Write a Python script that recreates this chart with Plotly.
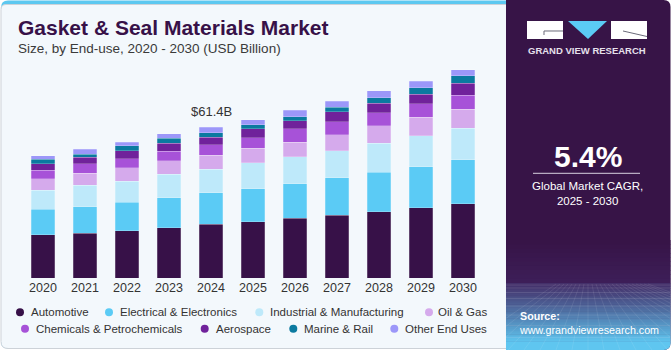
import plotly.graph_objects as go

# ---------------- data ----------------
years = ["2020", "2021", "2022", "2023", "2024", "2025", "2026", "2027", "2028", "2029", "2030"]
automotive = [17.5, 18.2, 19.2, 20.5, 21.8, 22.9, 24.3, 25.5, 27.0, 28.5, 30.2]
electrical = [10.4, 10.8, 11.7, 12.2, 12.9, 13.4, 14.0, 15.2, 16.0, 16.7, 17.8]
industrial = [7.8, 8.7, 8.5, 9.4, 9.6, 10.6, 11.0, 11.0, 11.7, 12.6, 13.0]
oil_gas = [4.6, 4.9, 5.4, 5.6, 5.6, 5.8, 6.0, 6.5, 7.3, 7.5, 7.6]
chemicals = [3.5, 3.8, 3.7, 3.8, 4.2, 4.3, 5.4, 5.3, 5.2, 5.6, 5.8]
aerospace = [2.6, 2.7, 3.3, 3.4, 3.1, 3.7, 3.3, 4.1, 3.9, 3.9, 4.8]
marine_rail = [1.9, 1.2, 1.9, 1.9, 1.9, 1.6, 1.6, 1.8, 2.3, 2.6, 3.0]
other_uses = [1.5, 2.0, 1.6, 1.9, 2.3, 2.0, 2.6, 2.4, 2.7, 2.7, 2.4]

series_names = ["Automotive", "Electrical & Electronics", "Industrial & Manufacturing", "Oil & Gas",
                "Chemicals & Petrochemicals", "Aerospace", "Marine & Rail", "Other End Uses"]
series_values = [automotive, electrical, industrial, oil_gas, chemicals, aerospace, marine_rail, other_uses]
series_colors = ["#371148", "#5BCBF5", "#BEE9FA", "#D5AAEC", "#A752D8", "#70229B", "#0B7AA0", "#9C97F9"]

highlight_year = "2024"
highlight_label = "$61.4B"
cagr_text = "5.4%"

# ---------------- geometry helpers (pixel -> paper) ----------------
W, H = 671, 350
L, R, T, B = 22, 187, 60, 72
PW, PH = W - L - R, H - T - B


def px(x):
    return (x - L) / PW


def py(y):
    return (H - B - y) / PH


def rounded_path(x0, y0, x1, y1, r_tl=0, r_tr=0, r_br=0, r_bl=0):
    p = []
    p.append("M %f %f" % (px(x0 + r_tl), py(y0)))
    p.append("L %f %f" % (px(x1 - r_tr), py(y0)))
    p.append("Q %f %f %f %f" % (px(x1), py(y0), px(x1), py(y0 + r_tr)))
    p.append("L %f %f" % (px(x1), py(y1 - r_br)))
    p.append("Q %f %f %f %f" % (px(x1), py(y1), px(x1 - r_br), py(y1)))
    p.append("L %f %f" % (px(x0 + r_bl), py(y1)))
    p.append("Q %f %f %f %f" % (px(x0), py(y1), px(x0), py(y1 - r_bl)))
    p.append("L %f %f" % (px(x0), py(y0 + r_tl)))
    p.append("Q %f %f %f %f" % (px(x0), py(y0), px(x0 + r_tl), py(y0)))
    p.append("Z")
    return " ".join(p)


fig = go.Figure()
for name, vals, col in zip(series_names, series_values, series_colors):
    fig.add_trace(go.Bar(
        x=years, y=vals, name=name, marker=dict(color=col, line=dict(width=0.5, color="rgba(255,255,255,0.45)")),
        showlegend=False, hoverinfo="x+y+name"))

shapes = []
annotations = []

# left panel background (rounded)
shapes.append(dict(type="path", xref="paper", yref="paper", path=rounded_path(1, 0.5, 512, 348.5, 7, 0, 0, 7),
                   fillcolor="#5CC8F0", line=dict(width=0), layer="below"))
shapes.append(dict(type="path", xref="paper", yref="paper", path=rounded_path(1, 4.5, 512, 348.5, 5, 0, 0, 7),
                   fillcolor="#F3F8FC", line=dict(color="#CDD2D8", width=1), layer="below"))

# right panel
shapes.append(dict(type="path", xref="paper", yref="paper", path=rounded_path(506, 0, 670.5, 350, 0, 7, 7, 0),
                   fillcolor="#371447", line=dict(width=0), layer="below"))


def lerp(c1, c2, t):
    a = [int(c1[i:i + 2], 16) for i in (1, 3, 5)]
    b = [int(c2[i:i + 2], 16) for i in (1, 3, 5)]
    return "#%02x%02x%02x" % tuple(round(a[k] + (b[k] - a[k]) * t) for k in range(3))


n = 10
for i in range(n):
    y0 = 240 + i * 43 / n
    shapes.append(dict(type="rect", xref="paper", yref="paper", x0=px(506), x1=px(670.5), y0=py(y0 + 43 / n + 0.5),
                       y1=py(y0), fillcolor=lerp("#371447", "#3D1E58", i / (n - 1)), line=dict(width=0), layer="below"))
n = 34
for i in range(n):
    y0 = 283 + i * 60 / n
    shapes.append(dict(type="rect", xref="paper", yref="paper", x0=px(506), x1=px(670.5), y0=py(y0 + 60 / n + 0.5),
                       y1=py(y0), fillcolor=lerp("#44306A", "#5FC6F0", (i / (n - 1)) ** 1.1), line=dict(width=0), layer="below"))
shapes.append(dict(type="path", xref="paper", yref="paper", path=rounded_path(506, 343, 670.5, 350, 0, 0, 7, 0),
                   fillcolor="#5FC6F0", line=dict(width=0), layer="below"))
for k in range(9):
    yy = 285 + k * (k + 3) * 0.75
    shapes.append(dict(type="line", xref="paper", yref="paper", x0=px(506), x1=px(670), y0=py(yy), y1=py(yy),
                       line=dict(color="rgba(255,255,255,0.16)", width=0.7), layer="below"))
for k in range(-8, 16):
    xt = 588 + k * 4
    xb = 588 + k * 16
    if xb > 670:
        xb2 = 670
        yb = 284 + (670 - xt) / (xb - xt) * 66
    elif xb < 506:
        xb2 = 506
        yb = 284 + (506 - xt) / (xb - xt) * 66
    else:
        xb2, yb = xb, 350
    shapes.append(dict(type="line", xref="paper", yref="paper", x0=px(xt), x1=px(xb2), y0=py(284), y1=py(yb),
                       line=dict(color="rgba(255,255,255,0.13)", width=0.7), layer="below"))

# logo
shapes.append(dict(type="rect", xref="paper", yref="paper", x0=px(527), x1=px(563), y0=py(39), y1=py(21),
                   fillcolor="white", line=dict(width=0)))
shapes.append(dict(type="path", xref="paper", yref="paper",
                   path="M %f %f L %f %f L %f %f Z" % (px(568), py(21), px(607), py(21), px(588), py(39)),
                   fillcolor="#5BCBF5", line=dict(width=0)))
shapes.append(dict(type="rect", xref="paper", yref="paper", x0=px(611), x1=px(647), y0=py(39), y1=py(21),
                   fillcolor="white", line=dict(width=0)))
shapes.append(dict(type="path", xref="paper", yref="paper",
                   path="M %f %f L %f %f L %f %f" % (px(563), py(31), px(544), py(31), px(544), py(35)),
                   line=dict(color="#6B6B7A", width=1)))
shapes.append(dict(type="path", xref="paper", yref="paper",
                   path="M %f %f L %f %f" % (px(623), py(31), px(647), py(36.5)),
                   line=dict(color="#6B6B7A", width=1)))
annotations.append(dict(text="<b>GRAND VIEW RESEARCH</b>", xref="paper", yref="paper", x=px(586.5), y=py(51),
                        xanchor="center", yanchor="middle", showarrow=False,
                        font=dict(family="Liberation Sans", size=9.5, color="#E6E1EC")))

# CAGR
annotations.append(dict(text="<b>%s</b>" % cagr_text, xref="paper", yref="paper", x=px(587.5), y=py(156),
                        xanchor="center", yanchor="middle", showarrow=False,
                        font=dict(family="Liberation Sans", size=30, color="white")))
shapes.append(dict(type="line", xref="paper", yref="paper", x0=px(533), x1=px(640), y0=py(173.3), y1=py(173.3),
                   line=dict(color="#D8D0E0", width=1)))
annotations.append(dict(text="Global Market CAGR,<br>2025 - 2030", xref="paper", yref="paper", x=px(587), y=py(193),
                        xanchor="center", yanchor="middle", showarrow=False, align="center",
                        font=dict(family="Liberation Sans", size=11.5, color="white")))
annotations.append(dict(text="<b>Source:</b><br>www.grandviewresearch.com", xref="paper", yref="paper", x=px(517),
                        y=py(323), xanchor="left", yanchor="middle", showarrow=False, align="left",
                        font=dict(family="Liberation Sans", size=10.7, color="white")))

# title
annotations.append(dict(text="<b>Gasket & Seal Materials Market</b>", xref="paper", yref="paper", x=px(16),
                        y=py(27.5), xanchor="left", yanchor="middle", showarrow=False,
                        font=dict(family="Liberation Sans", size=21, color="#371148")))
annotations.append(dict(text="Size, by End-use, 2020 - 2030 (USD Billion)", xref="paper", yref="paper", x=px(16),
                        y=py(48), xanchor="left", yanchor="middle", showarrow=False,
                        font=dict(family="Liberation Sans", size=13.5, color="#3A3A3A")))

# value label above the highlighted bar
hl_idx = years.index(highlight_year)
total_hl = sum(v[hl_idx] for v in series_values)
annotations.append(dict(text=highlight_label, x=hl_idx, y=total_hl, xref="x", yref="y",
                        xanchor="center", yanchor="bottom", yshift=6, showarrow=False,
                        font=dict(family="Liberation Sans", size=13, color="#333333")))

# legend (manual)
legend_rows = [
    [(0, 20, 30.7), (1, 109, 119), (2, 259.3, 269.3), (3, 429, 437.7)],
    [(4, 25, 35.3), (5, 204.7, 215), (6, 293.3, 303.7), (7, 394.3, 404.3)],
]
row_y = [312.3, 328.7]
for r, row in enumerate(legend_rows):
    yc = row_y[r]
    for idx, mx, tx in row:
        shapes.append(dict(type="circle", xref="paper", yref="paper", x0=px(mx - 4), x1=px(mx + 4),
                           y0=py(yc + 4), y1=py(yc - 4), fillcolor=series_colors[idx], line=dict(width=0)))
        annotations.append(dict(text=series_names[idx], xref="paper", yref="paper", x=px(tx - 1.5), y=py(yc),
                                xanchor="left", yanchor="middle", showarrow=False,
                                font=dict(family="Liberation Sans", size=11.5, color="#333333")))

fig.update_layout(
    width=W, height=H, margin=dict(l=L, r=R, t=T, b=B, pad=0),
    paper_bgcolor="white", plot_bgcolor="rgba(0,0,0,0)",
    barmode="stack", bargap=0.43,
    xaxis=dict(type="category", categoryorder="array", categoryarray=years, range=[-0.5, len(years) - 0.5],
               autorange=False, showgrid=False, zeroline=False, showline=False, ticks="",
               tickfont=dict(family="Liberation Sans", size=12.5, color="#333333")),
    yaxis=dict(range=[0, PH / 2.459], autorange=False, visible=False, showgrid=False, zeroline=False),
    shapes=shapes, annotations=annotations, showlegend=False,
    font=dict(family="Liberation Sans"),
)

fig.write_html("out.html")
